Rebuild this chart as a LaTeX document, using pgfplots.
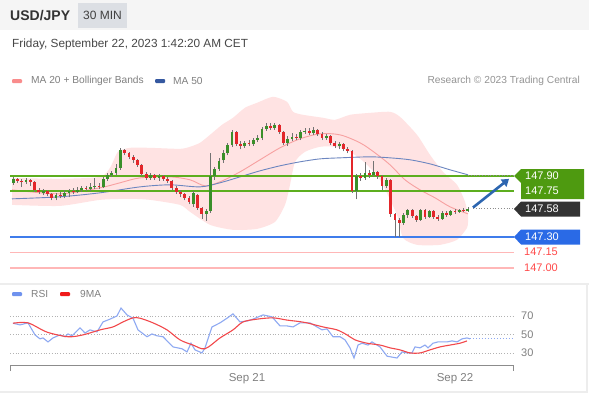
\documentclass[border=0pt]{standalone}
\usepackage{fontspec}
\setmainfont{Liberation Sans}
\usepackage{pgfplots}
\usepackage{pgfplotstable}
\pgfplotsset{compat=1.18}
\usetikzlibrary{arrows.meta}

\definecolor{cgreen}{HTML}{3A8F2A}
\definecolor{cred}{HTML}{E3262A}
\definecolor{lvlgreen}{HTML}{5DAE1F}
\definecolor{bbfill}{HTML}{FFE3E3}
\definecolor{ma20}{HTML}{F7A0A0}
\definecolor{ma50}{HTML}{6C86C0}
\definecolor{lvlblue}{HTML}{3F7CEB}
\definecolor{lvlpink}{HTML}{FFB7B7}
\definecolor{rsiblue}{HTML}{8EA9F2}
\definecolor{rsired}{HTML}{F2484B}
\definecolor{arrowblue}{HTML}{2D66B0}
\definecolor{txtgray}{HTML}{808080}
\definecolor{boxgray}{HTML}{DCDFE4}
\definecolor{legpink}{HTML}{F98C8C}
\definecolor{legblue}{HTML}{3558A0}
\definecolor{boxgreen}{HTML}{4E9A10}
\definecolor{boxdark}{HTML}{333333}
\definecolor{boxblue}{HTML}{2A6AE6}
\definecolor{lblred}{HTML}{FF4A4A}
\definecolor{legrsi}{HTML}{6F92EE}
\definecolor{legma}{HTML}{F01A1A}

% candles: k o h l c  (x position = 455 + 4.29 k)
\pgfplotstableread{
k o h l c
-103 147.83 147.89 147.81 147.87
-100 147.84 147.88 147.82 147.86
-96 147.73 147.77 147.71 147.75
-93 147.68 147.73 147.66 147.71
-91 147.70 147.76 147.68 147.73
-90 147.73 147.77 147.69 147.75
-88 147.74 147.79 147.73 147.76
-87 147.76 147.80 147.74 147.78
-85 147.77 147.83 147.75 147.79
-84 147.79 147.88 147.77 147.80
-82 147.79 147.89 147.78 147.87
-81 147.87 147.93 147.85 147.91
-80 147.91 147.95 147.89 147.93
-79 147.93 148.02 147.91 147.98
-78 147.98 148.17 147.96 148.15
-71 147.88 147.93 147.86 147.91
-69 147.88 147.92 147.85 147.90
-61 147.62 147.75 147.60 147.73
-58 147.53 147.58 147.46 147.56
-57 147.56 148.12 147.54 147.90
-56 147.90 147.99 147.86 147.97
-55 147.97 148.07 147.95 148.05
-54 148.05 148.15 148.03 148.12
-53 148.12 148.22 148.10 148.20
-52 148.20 148.35 148.18 148.33
-49 148.19 148.24 148.17 148.22
-47 148.21 148.27 148.19 148.25
-46 148.25 148.30 148.23 148.27
-45 148.27 148.38 148.25 148.36
-44 148.36 148.42 148.34 148.39
-42 148.37 148.42 148.35 148.40
-39 148.22 148.29 148.19 148.26
-38 148.26 148.32 148.24 148.28
-36 148.27 148.35 148.25 148.33
-35 148.33 148.37 148.31 148.34
-33 148.32 148.38 148.30 148.35
-30 148.27 148.31 148.25 148.29
-27 148.19 148.23 148.16 148.21
-23 147.75 147.92 147.67 147.90
-21 147.88 148.04 147.86 147.93
-19 147.91 148.05 147.89 147.94
-16 147.80 147.88 147.78 147.86
-12 147.44 147.54 147.42 147.52
-11 147.52 147.58 147.49 147.57
-8 147.47 147.58 147.46 147.57
-6 147.50 147.57 147.49 147.56
-3 147.48 147.56 147.47 147.54
-1 147.52 147.57 147.51 147.56
1 147.55 147.58 147.54 147.57
3 147.56 147.60 147.55 147.58
}\upcandles

\pgfplotstableread{
k o h l c
-102 147.87 147.88 147.83 147.85
-101 147.85 147.87 147.79 147.84
-99 147.86 147.87 147.80 147.84
-98 147.84 147.85 147.74 147.76
-97 147.76 147.78 147.72 147.74
-95 147.75 147.76 147.70 147.72
-94 147.72 147.73 147.66 147.68
-92 147.71 147.74 147.68 147.70
-89 147.75 147.78 147.72 147.74
-86 147.78 147.80 147.75 147.77
-83 147.80 147.83 147.77 147.79
-77 148.15 148.16 148.10 148.12
-76 148.12 148.13 148.06 148.08
-75 148.08 148.10 148.03 148.05
-74 148.05 148.06 147.99 148.01
-73 148.01 148.02 147.90 147.92
-72 147.92 147.94 147.86 147.88
-70 147.91 147.92 147.86 147.88
-68 147.90 147.91 147.85 147.87
-67 147.87 147.89 147.83 147.85
-66 147.85 147.86 147.76 147.78
-65 147.78 147.80 147.72 147.74
-64 147.74 147.76 147.69 147.72
-63 147.72 147.73 147.66 147.68
-62 147.68 147.70 147.62 147.64
-60 147.71 147.72 147.57 147.59
-59 147.59 147.60 147.48 147.53
-51 148.33 148.34 148.19 148.21
-50 148.21 148.24 148.16 148.19
-48 148.22 148.25 148.19 148.21
-43 148.39 148.42 148.35 148.37
-41 148.40 148.41 148.31 148.33
-40 148.33 148.34 148.20 148.22
-37 148.28 148.31 148.25 148.27
-34 148.34 148.37 148.30 148.32
-32 148.35 148.36 148.29 148.31
-31 148.31 148.33 148.25 148.27
-29 148.29 148.30 148.20 148.22
-28 148.22 148.24 148.17 148.19
-26 148.21 148.22 148.14 148.16
-25 148.16 148.18 148.12 148.14
-24 148.14 148.15 147.73 147.75
-22 147.90 147.93 147.85 147.88
-20 147.93 147.96 147.88 147.91
-18 147.94 147.95 147.87 147.90
-17 147.90 147.91 147.76 147.80
-15 147.86 147.87 147.50 147.53
-14 147.53 147.54 147.30 147.47
-13 147.47 147.49 147.30 147.44
-10 147.57 147.58 147.49 147.51
-9 147.51 147.52 147.45 147.47
-7 147.57 147.58 147.48 147.50
-5 147.56 147.57 147.48 147.50
-4 147.50 147.52 147.46 147.48
-2 147.54 147.56 147.50 147.52
0 147.56 147.58 147.53 147.55
2 147.57 147.59 147.55 147.56
}\downcandles

% Bollinger band outline: upper edge left to right, then lower edge right to left
\pgfplotstableread{
x p
12 147.880
60 147.871
100 147.890
110 147.978
118 148.135
130 148.174
150 148.174
180 148.164
190 148.184
200 148.223
210 148.301
222 148.399
233 148.468
245 148.566
257 148.614
273 148.673
287 148.624
293 148.526
303 148.497
323 148.468
335 148.448
350 148.497
370 148.516
390 148.526
400 148.477
417 148.301
430 148.105
443 147.939
457 147.812
465 147.646
468 147.509
468 147.450
467 147.391
457 147.274
440 147.225
417 147.225
403 147.293
397 147.518
380 147.861
365 148.027
350 148.135
335 148.184
320 148.184
305 148.135
295 148.037
290 147.812
285 147.616
275 147.450
257 147.381
233 147.372
210 147.421
190 147.548
180 147.616
150 147.665
130 147.675
100 147.665
60 147.606
12 147.616
}\bandpoly

\pgfplotstableread{
x ma
12 147.763
60 147.724
100 147.783
120 147.832
140 147.880
170 147.890
190 147.861
205 147.802
220 147.841
240 147.939
260 148.057
280 148.174
300 148.262
320 148.311
340 148.301
360 148.223
375 148.125
390 148.008
405 147.861
420 147.763
435 147.685
450 147.597
468 147.528
}\mavint

\pgfplotstableread{
x ma
12 147.675
60 147.695
100 147.734
140 147.792
170 147.812
200 147.792
220 147.832
240 147.890
260 147.949
280 147.998
300 148.037
320 148.066
340 148.076
370 148.086
390 148.076
410 148.057
430 148.017
450 147.959
468 147.910
}\mafifty

% RSI (14) and its 9-period moving average
\pgfplotstableread{
x v
13 62.6
20 60.8
28 63
35 50
40 45.7
43 46.7
48 42.4
53 46.7
60 50
65 48
68 51
72 49
80 57.6
85 52
90 55.4
97 53.2
103 64
110 67
117 70.5
121 79
127 71.6
133 68
138 55.4
147 48
152 51
157 49
163 48
173 37
182 35
187 31.6
191 41
195 33.8
202 30.5
205 36
212 58.6
220 63
227 68
233 72.7
240 64
247 65
253 67
263 71.6
272 69.5
280 59.7
287 59.7
293 58.6
300 63
310 63
317 58.6
322 55.4
327 56.5
333 48
340 48
345 44.6
350 36
354 25
358 39
362 41
368 39
372 42.4
380 37
387 27
397 25
402 31.6
407 30.5
412 30.5
415 37
420 36
425 39
428 36
433 41
438 42.4
447 42.4
452 43.5
457 42.4
462 45.7
467 46.7
470 45.7
}\rsi

\pgfplotstableread{
x v
13 62.6
28 63
47 53
68 48
83 50
100 55.4
113 58.6
123 64
133 68.4
140 68
153 63
167 55.4
180 44.6
193 39
205 35
220 46.7
233 55.4
243 64
257 67
273 68.4
287 66
300 64.3
307 63
323 58.6
337 55.4
347 50
355 44.6
367 41
380 39
390 36
400 33.8
410 30.5
420 30.5
430 33.8
440 37
450 39
460 41
467 43.5
}\rsima

\pgfplotstableread{
x v
10 70
513 70
}\gridseventy
\pgfplotstableread{
x v
10 50
513 50
}\gridfifty
\pgfplotstableread{
x v
10 30
513 30
}\gridthirty
\pgfplotstableread{
x v
470 45.7
512 45.7
}\rsilast

\begin{document}
\begin{tikzpicture}[x=1bp,y=1bp]
\fill[white] (0,0) rectangle (589,399);
% header band
\fill[black!4] (0,369) rectangle (589,399);
\fill[boxgray] (78,371) rectangle (127,396);
\node[anchor=center, text=black!75] at (102.5,383.5) {\fontsize{12bp}{14bp}\selectfont 30 MIN};
\node[anchor=west, inner sep=0, text=black!80] at (10,383.5) {\fontsize{14bp}{16bp}\selectfont\bfseries USD/JPY};
\node[anchor=west, inner sep=0, text=black!72] at (12,355) {\fontsize{11.8bp}{14bp}\selectfont Friday, September 22, 2023 1:42:20 AM CET};
% legend top
\fill[legpink, rounded corners=1bp] (12,316) rectangle (22,320);
\node[anchor=west, inner sep=0, text=txtgray] at (31,318) {\fontsize{10.2bp}{12bp}\selectfont MA 20 + Bollinger Bands};
\fill[legblue, rounded corners=1bp] (155,316) rectangle (165,320);
\node[anchor=west, inner sep=0, text=txtgray] at (173,318) {\fontsize{10.2bp}{12bp}\selectfont MA 50};
\node[anchor=east, inner sep=0, text=black!42] at (580,318) {\fontsize{10.2bp}{12bp}\selectfont Research © 2023 Trading Central};

% panel separators
\draw[black!7, line width=2bp] (0,115) -- (589,115);
\draw[black!7, line width=1.2bp] (0,7) -- (587,7) -- (587,115);

% RSI legend
\fill[legrsi, rounded corners=1bp] (12,103) rectangle (22,107);
\node[anchor=west, inner sep=0, text=txtgray] at (31,105) {\fontsize{10.2bp}{12bp}\selectfont RSI};
\fill[legma, rounded corners=1bp] (60,103) rectangle (70,107);
\node[anchor=west, inner sep=0, text=txtgray] at (80,105) {\fontsize{10.2bp}{12bp}\selectfont 9MA};

% ---------------- price axis (the RSI pane is drawn below it on the same x scale,
% its values mapped with y = 145.8917 + 0.009051*RSI)
\begin{axis}[at={(10,118.5)}, anchor=south west, scale only axis,
  width=503bp, height=188bp, hide axis, clip=false,
  xmin=10, xmax=513, ymin=146.902, ymax=148.741]
\addplot[fill=bbfill, draw=none, smooth, tension=0.4] table[x=x, y=p] {\bandpoly} -- cycle;
\addplot[ma20, line width=0.9bp, smooth] table[x=x, y=ma] {\mavint};
\addplot[ma50, line width=0.9bp, smooth] table[x=x, y=ma] {\mafifty};
% levels
\addplot[lvlgreen, line width=2.4bp] coordinates {(10,147.90) (514,147.90)};
\addplot[lvlgreen, line width=2.4bp] coordinates {(10,147.75) (514,147.75)};
\addplot[lvlblue, line width=1.6bp] coordinates {(10,147.30) (514,147.30)};
\addplot[lvlpink, line width=1.6bp] coordinates {(10,147.15) (514,147.15)};
\addplot[lvlpink, line width=1.6bp] coordinates {(10,147.00) (514,147.00)};
\addplot[black!45, dotted, line width=0.8bp] coordinates {(468,147.90) (514,147.90)};
\addplot[black!45, dotted, line width=0.8bp] coordinates {(473,147.58) (514,147.58)};
% candles
\addplot[black!55, line width=0.7bp, mark=none, quiver={u=0, v=\thisrow{h}-\thisrow{l}}]
  table[x expr=455+4.29*\thisrow{k}, y=l] {\upcandles};
\addplot[black!55, line width=0.7bp, mark=none, quiver={u=0, v=\thisrow{h}-\thisrow{l}}]
  table[x expr=455+4.29*\thisrow{k}, y=l] {\downcandles};
\addplot[cgreen, line width=2.8bp, mark=none, quiver={u=0, v=\thisrow{c}-\thisrow{o}}]
  table[x expr=455+4.29*\thisrow{k}, y=o] {\upcandles};
\addplot[cred, line width=2.8bp, mark=none, quiver={u=0, v=\thisrow{c}-\thisrow{o}}]
  table[x expr=455+4.29*\thisrow{k}, y=o] {\downcandles};
% forecast arrow
\addplot[arrowblue, line width=2.6bp, -{Triangle[length=7bp,width=9bp]}] coordinates {(473,147.59) (509,147.87)};
% ---- RSI pane
\addplot[black!30, dotted, line width=0.8bp] table[x=x, y expr=145.8917+0.009051*\thisrow{v}] {\gridseventy};
\addplot[black!30, dotted, line width=0.8bp] table[x=x, y expr=145.8917+0.009051*\thisrow{v}] {\gridfifty};
\addplot[black!30, dotted, line width=0.8bp] table[x=x, y expr=145.8917+0.009051*\thisrow{v}] {\gridthirty};
\addplot[rsiblue, line width=1.1bp] table[x=x, y expr=145.8917+0.009051*\thisrow{v}] {\rsi};
\addplot[rsiblue, dotted, line width=1bp] table[x=x, y expr=145.8917+0.009051*\thisrow{v}] {\rsilast};
\addplot[rsired, line width=1.1bp, smooth] table[x=x, y expr=145.8917+0.009051*\thisrow{v}] {\rsima};
\end{axis}

% level labels
\fill[boxgreen] (514,223) -- (521,230) -- (584,230) -- (584,200) -- (521,200) -- (521,216) -- cycle;
\node[anchor=west, inner sep=0, text=white] at (525,223) {\fontsize{11bp}{13bp}\selectfont 147.90};
\node[anchor=west, inner sep=0, text=white] at (525,208) {\fontsize{11bp}{13bp}\selectfont 147.75};
\fill[boxdark] (514,190) -- (521,197.5) -- (580,197.5) -- (580,182.5) -- (521,182.5) -- cycle;
\node[anchor=west, inner sep=0, text=white] at (525,190) {\fontsize{11bp}{13bp}\selectfont 147.58};
\fill[boxblue] (514,162) -- (521,169.5) -- (580,169.5) -- (580,154.5) -- (521,154.5) -- cycle;
\node[anchor=west, inner sep=0, text=white] at (525,162) {\fontsize{11bp}{13bp}\selectfont 147.30};
\node[anchor=west, inner sep=0, text=lblred] at (524,147) {\fontsize{11bp}{13bp}\selectfont 147.15};
\node[anchor=west, inner sep=0, text=lblred] at (524,131) {\fontsize{11bp}{13bp}\selectfont 147.00};

\node[anchor=west, inner sep=0, text=txtgray] at (521,83) {\fontsize{11bp}{13bp}\selectfont 70};
\node[anchor=west, inner sep=0, text=txtgray] at (521,64.5) {\fontsize{11bp}{13bp}\selectfont 50};
\node[anchor=west, inner sep=0, text=txtgray] at (521,46) {\fontsize{11bp}{13bp}\selectfont 30};
% time axis
\draw[black!45, line width=0.8bp] (10,28) -- (10,33.5) -- (513,33.5) -- (513,28);
\node[text=txtgray] at (247,20) {\fontsize{11.5bp}{13bp}\selectfont Sep 21};
\node[text=txtgray] at (455,20) {\fontsize{11.5bp}{13bp}\selectfont Sep 22};
\pgfresetboundingbox
\path[use as bounding box] (0,0) rectangle (589,399);
\end{tikzpicture}
\end{document}
